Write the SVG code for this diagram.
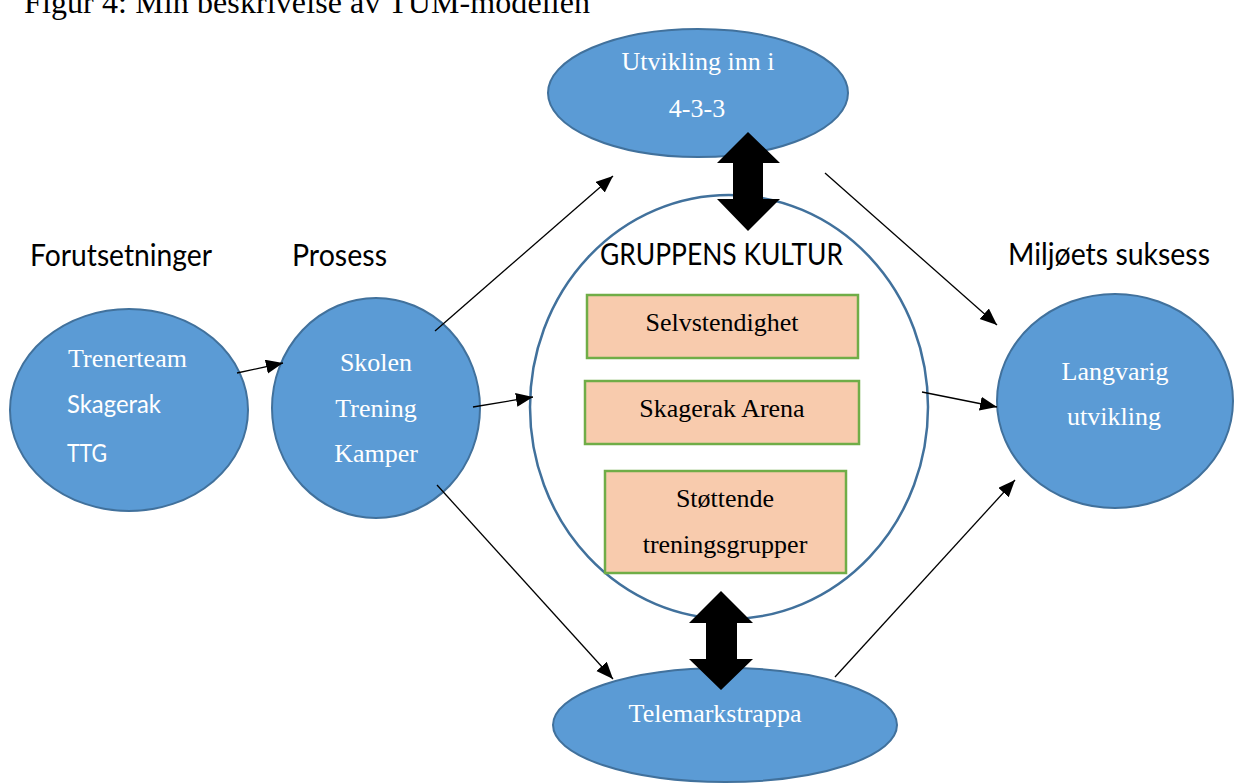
<svg xmlns="http://www.w3.org/2000/svg" width="1234" height="783" viewBox="0 0 1234 783">
<style>
.ell{fill:#5B9BD5;stroke:#41719C;stroke-width:2}
.box{fill:#F8CBAD;stroke:#70AD47;stroke-width:2.5}
.tw{font-family:"Liberation Serif","Times New Roman",serif;font-size:26px;fill:#fff}
.tb{font-family:"Liberation Serif","Times New Roman",serif;font-size:26px;fill:#000}
.sw{font-family:Lato,"Open Sans","Liberation Sans",sans-serif;font-size:25px;fill:#fff}
.hd{font-family:Lato,"Open Sans","Liberation Sans",sans-serif;font-size:30px;fill:#000}
.con{stroke:#000;stroke-width:1.3;fill:none;marker-end:url(#ah)}
.dbl{fill:#000}
</style>
<defs>
<marker id="ah" markerUnits="userSpaceOnUse" markerWidth="18" markerHeight="15" refX="17" refY="7" orient="auto">
<path d="M0,0 L17,7 L0,14 z" fill="#000"/>
</marker>
</defs>
<rect width="1234" height="783" fill="#fff"/>
<text x="24" y="13" font-family="Liberation Serif,'Times New Roman',serif" font-size="32" fill="#000" textLength="566">Figur 4: Min beskrivelse av TUM-modellen</text>
<g id="headers">
<text class="hd" x="30" y="266" textLength="182" lengthAdjust="spacingAndGlyphs">Forutsetninger</text>
<text class="hd" x="292" y="266" textLength="95" lengthAdjust="spacingAndGlyphs">Prosess</text>
<text class="hd" x="600" y="265" textLength="243" lengthAdjust="spacingAndGlyphs">GRUPPENS KULTUR</text>
<text class="hd" x="1008" y="265" textLength="202" lengthAdjust="spacingAndGlyphs">Miljøets suksess</text>
</g>
<g id="kultur">
<ellipse cx="729" cy="407" rx="199" ry="212" fill="none" stroke="#41719C" stroke-width="2.5"/>
</g>
<g id="selvstendighet">
<rect class="box" x="587" y="295" width="271" height="63"/>
<text class="tb" x="722" y="331" text-anchor="middle">Selvstendighet</text>
</g>
<g id="arena">
<rect class="box" x="585" y="381" width="274" height="63"/>
<text class="tb" x="722" y="417" text-anchor="middle">Skagerak Arena</text>
</g>
<g id="stottende">
<rect class="box" x="605" y="471" width="241" height="102"/>
<text class="tb" x="725" y="507" text-anchor="middle">Støttende</text>
<text class="tb" x="725" y="553" text-anchor="middle">treningsgrupper</text>
</g>
<g id="forutsetninger">
<ellipse class="ell" cx="129" cy="410" rx="119" ry="101"/>
<text class="tw" x="68" y="367">Trenerteam</text>
<text class="sw" x="67" y="413" textLength="94" lengthAdjust="spacingAndGlyphs">Skagerak</text>
<text class="sw" x="67" y="462" textLength="40" lengthAdjust="spacingAndGlyphs">TTG</text>
</g>
<g id="prosess">
<ellipse class="ell" cx="376" cy="408" rx="104" ry="110"/>
<text class="tw" x="376" y="371" text-anchor="middle">Skolen</text>
<text class="tw" x="376" y="417" text-anchor="middle">Trening</text>
<text class="tw" x="376" y="462" text-anchor="middle">Kamper</text>
</g>
<g id="utvikling">
<ellipse class="ell" cx="698" cy="93" rx="150" ry="64"/>
<text class="tw" x="698" y="70" text-anchor="middle">Utvikling inn i</text>
<text class="tw" x="697" y="117" text-anchor="middle">4-3-3</text>
</g>
<g id="telemark">
<ellipse class="ell" cx="725" cy="725" rx="172" ry="57"/>
<text class="tw" x="715" y="722" text-anchor="middle">Telemarkstrappa</text>
</g>
<g id="langvarig">
<ellipse class="ell" cx="1115" cy="401" rx="118" ry="107"/>
<text class="tw" x="1115" y="380" text-anchor="middle">Langvarig</text>
<text class="tw" x="1114" y="425" text-anchor="middle">utvikling</text>
</g>
<g id="connectors">
<line class="con" x1="237" y1="373" x2="283" y2="363"/>
<line class="con" x1="473" y1="407" x2="533" y2="397"/>
<line class="con" x1="435" y1="331" x2="613" y2="176"/>
<line class="con" x1="437" y1="485" x2="613" y2="679"/>
<line class="con" x1="825" y1="173" x2="997" y2="325"/>
<line class="con" x1="922" y1="392" x2="997" y2="407"/>
<line class="con" x1="835" y1="677" x2="1015" y2="480"/>
<path class="dbl" d="M748,132 L780,163 L763,163 L763,199 L780,199 L748,231 L717,199 L733,199 L733,163 L717,163 z"/>
<path class="dbl" d="M721,591 L753,623 L737,623 L737,659 L753,659 L721,690 L689,659 L706,659 L706,623 L689,623 z"/>
</g>
</svg>
